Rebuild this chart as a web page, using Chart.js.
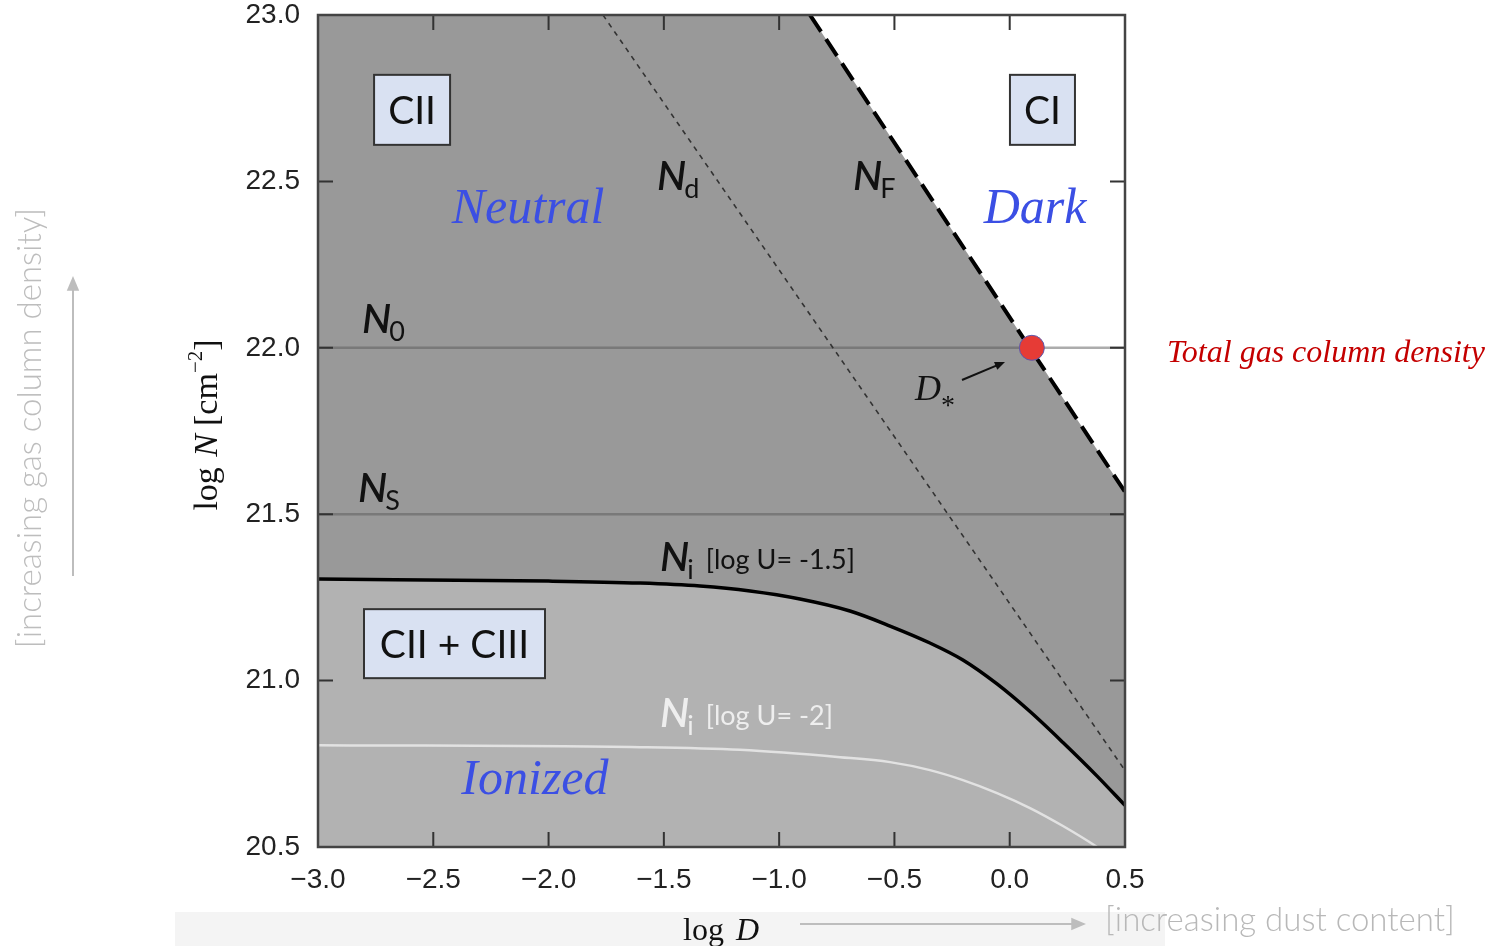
<!DOCTYPE html>
<html>
<head>
<meta charset="utf-8">
<script src="https://cdn.jsdelivr.net/npm/chart.js@4.4.1/dist/chart.umd.min.js"></script>
<style>
  html, body { margin: 0; padding: 0; background: #fff; }
  canvas { display: block; }
</style>
</head>
<body>
<canvas id="grafica" width="1502" height="946"></canvas>
<script>
// Marcas de los ejes
const ticksLogD = [-3.0, -2.5, -2.0, -1.5, -1.0, -0.5, 0.0, 0.5];
const ticksLogN = [20.5, 21.0, 21.5, 22.0, 22.5, 23.0];

// N_i [log U = -1.5] (curva negra)
const niAltoD = [-3.0, -2.0, -1.603, -1.343, -1.126, -0.910, -0.693, -0.519, -0.346, -0.203, -0.055, 0.088, 0.231, 0.379, 0.5];
const niAltoN = [21.305, 21.299, 21.293, 21.284, 21.269, 21.245, 21.209, 21.164, 21.113, 21.062, 20.990, 20.907, 20.814, 20.713, 20.625];

// N_i [log U = -2] (curva blanca)
const niBajoD = [-3.0, -1.603, -1.170, -0.736, -0.519, -0.346, -0.203, -0.055, 0.088, 0.231, 0.379, 0.46];
const niBajoN = [20.806, 20.800, 20.792, 20.770, 20.755, 20.731, 20.701, 20.662, 20.617, 20.563, 20.500, 20.46];

// N_d (punteada) y N_F (discontinua)
const ndD = [-1.764, 0.5];
const ndN = [23.0, 20.73];
const nfD = [-0.866, 0.5];
const nfN = [23.0, 21.567];

// Lineas horizontales N_0 y N_S
const n0 = 22.0;
const nS = 21.5;

// Punto D_* (columna total de gas)
const puntoD = [0.096];
const puntoN = [22.0];

const pares = (xs, ys) => xs.map((x, i) => ({ x: x, y: ys[i] }));
const xMin = ticksLogD[0], xMax = ticksLogD[ticksLogD.length - 1];
const yMin = ticksLogN[0], yMax = ticksLogN[ticksLogN.length - 1];

function formato(v) {
    return (v < -1e-9 ? '\u2212' : '') + Math.abs(v).toFixed(1);
}

// Texto con partes de distinta fuente (subindices, cursivas)
function textoMixto(ctx, x, y, partes, alinear) {
    let total = 0;
    partes.forEach(p => { ctx.font = p.f; total += ctx.measureText(p.t).width + (p.sep || 0); });
    let cx = alinear === 'center' ? x - total / 2 : x;
    ctx.textAlign = 'left';
    ctx.textBaseline = 'alphabetic';
    partes.forEach(p => {
        ctx.font = p.f;
        ctx.fillStyle = p.c || ctx.fillStyle;
        ctx.fillText(p.t, cx, y + (p.dy || 0));
        cx += ctx.measureText(p.t).width + (p.sep || 0);
    });
}

function caja(ctx, cx, cy, w, h, texto) {
    ctx.fillStyle = '#d9e1f2';
    ctx.fillRect(cx - w / 2, cy - h / 2, w, h);
    ctx.strokeStyle = '#333';
    ctx.lineWidth = 2;
    ctx.strokeRect(cx - w / 2, cy - h / 2, w, h);
    ctx.fillStyle = '#111';
    ctx.font = '39px Lato';
    ctx.textAlign = 'center';
    ctx.textBaseline = 'middle';
    ctx.fillText(texto, cx, cy + 2);
}

function flecha(ctx, x1, y1, x2, y2, color, ancho, cabeza) {
    const ang = Math.atan2(y2 - y1, x2 - x1);
    ctx.strokeStyle = color;
    ctx.fillStyle = color;
    ctx.lineWidth = ancho;
    ctx.beginPath();
    ctx.moveTo(x1, y1);
    ctx.lineTo(x2 - Math.cos(ang) * cabeza * 0.8, y2 - Math.sin(ang) * cabeza * 0.8);
    ctx.stroke();
    ctx.beginPath();
    ctx.moveTo(x2, y2);
    ctx.lineTo(x2 - cabeza * Math.cos(ang - 0.4), y2 - cabeza * Math.sin(ang - 0.4));
    ctx.lineTo(x2 - cabeza * Math.cos(ang + 0.4), y2 - cabeza * Math.sin(ang + 0.4));
    ctx.closePath();
    ctx.fill();
}

// Fondo de la franja inferior
const fondo = {
    id: 'fondo',
    beforeDraw(chart) {
        const ctx = chart.ctx;
        ctx.save();
        ctx.fillStyle = '#f4f4f4';
        ctx.fillRect(175, 912, 990, 34);
        ctx.restore();
    }
};

// Marco, marcas hacia dentro y anotaciones
const anotaciones = {
    id: 'anotaciones',
    afterDatasetsDraw(chart) {
        const ctx = chart.ctx;
        const a = chart.chartArea;
        const sx = chart.scales.x, sy = chart.scales.y;
        const px = v => sx.getPixelForValue(v);
        const py = v => sy.getPixelForValue(v);
        ctx.save();

        // marcas
        ctx.strokeStyle = '#333';
        ctx.lineWidth = 2;
        const largo = 15;
        ctx.beginPath();
        ticksLogD.forEach(v => {
            const x = px(v);
            ctx.moveTo(x, a.bottom); ctx.lineTo(x, a.bottom - largo);
            ctx.moveTo(x, a.top); ctx.lineTo(x, a.top + largo);
        });
        ticksLogN.forEach(v => {
            const y = py(v);
            ctx.moveTo(a.left, y); ctx.lineTo(a.left + largo, y);
            ctx.moveTo(a.right, y); ctx.lineTo(a.right - largo, y);
        });
        ctx.stroke();

        // marco
        ctx.strokeStyle = '#444';
        ctx.lineWidth = 2.5;
        ctx.strokeRect(a.left, a.top, a.right - a.left, a.bottom - a.top);

        // cajas
        caja(ctx, px(-2.592), py(22.715), 76, 70, 'CII');
        caja(ctx, px(0.142), py(22.715), 65, 70, 'CI');
        caja(ctx, px(-2.408), py(21.111), 181, 69, 'CII + CIII');

        // nombres de regiones
        ctx.fillStyle = '#3b4fe4';
        ctx.font = 'italic 50px "Liberation Serif"';
        ctx.textAlign = 'center';
        ctx.textBaseline = 'middle';
        ctx.fillText('Neutral', px(-2.089), py(22.414));
        ctx.fillText('Dark', px(0.110), py(22.414));
        ctx.fillText('Ionized', px(-2.059), py(20.70));

        // etiquetas de las lineas
        const fN = 'italic 600 41px Lato';
        const fSub = '27px Lato';
        ctx.fillStyle = '#111';
        textoMixto(ctx, px(-1.530), py(22.474), [{ t: 'N', f: fN, sep: -2 }, { t: 'd', f: fSub, dy: 8 }]);
        textoMixto(ctx, px(-0.680), py(22.474), [{ t: 'N', f: fN, sep: -2 }, { t: 'F', f: fSub, dy: 8 }]);
        textoMixto(ctx, px(-2.809), py(22.044), [{ t: 'N', f: fN, sep: -2 }, { t: '0', f: fSub, dy: 8 }]);
        textoMixto(ctx, px(-2.827), py(21.537), [{ t: 'N', f: fN, sep: -2 }, { t: 'S', f: fSub, dy: 8 }]);
        textoMixto(ctx, px(-1.517), py(21.329), [{ t: 'N', f: fN, sep: -2 }, { t: 'i', f: fSub, dy: 8, sep: 12 }, { t: '[log U= -1.5]', f: '27px Lato', dy: -2 }]);
        ctx.fillStyle = '#eeeeee';
        textoMixto(ctx, px(-1.517), py(20.861), [{ t: 'N', f: fN, sep: -2 }, { t: 'i', f: fSub, dy: 8, sep: 12 }, { t: '[log U= -2]', f: '27px Lato', dy: -2 }]);

        // D_* con flecha
        ctx.fillStyle = '#111';
        textoMixto(ctx, px(-0.411), py(21.843), [{ t: 'D', f: 'italic 36px "Liberation Serif"', sep: 0 }, { t: '*', f: '28px "Liberation Serif"', dy: 14 }]);
        flecha(ctx, 962, 380, 1005, 362, '#111', 2, 11);

        ctx.restore();
    },
    afterDraw(chart) {
        const ctx = chart.ctx;
        ctx.save();

        // titulo eje y
        ctx.translate(207, 425);
        ctx.rotate(-Math.PI / 2);
        ctx.fillStyle = '#111';
        textoMixto(ctx, 0, 10, [
            { t: 'log ', f: '34px "Liberation Serif"', sep: 2 },
            { t: 'N', f: 'italic 34px "Liberation Serif"', sep: 8 },
            { t: '[cm', f: '34px "Liberation Serif"' },
            { t: '\u22122', f: '21px "Liberation Serif"', dy: -15 },
            { t: ']', f: '34px "Liberation Serif"' }
        ], 'center');
        ctx.restore();

        ctx.save();
        // titulo eje x
        ctx.fillStyle = '#111';
        textoMixto(ctx, 721, 940, [
            { t: 'log ', f: '32px "Liberation Serif"', sep: 4 },
            { t: 'D', f: 'italic 32px "Liberation Serif"' }
        ], 'center');

        // leyendas grises exteriores
        ctx.fillStyle = '#b8b8b8';
        ctx.font = '300 33px Lato';
        ctx.textAlign = 'left';
        ctx.textBaseline = 'middle';
        ctx.fillText('[increasing dust content]', 1105, 920);
        flecha(ctx, 800, 924, 1086, 924, '#bdbdbd', 2, 16);

        ctx.save();
        ctx.translate(30, 428);
        ctx.rotate(-Math.PI / 2);
        ctx.textAlign = 'center';
        ctx.fillText('[increasing gas column density]', 0, 0);
        ctx.restore();
        flecha(ctx, 73, 576, 73, 276, '#bdbdbd', 2, 16);

        // texto rojo
        ctx.fillStyle = '#c40000';
        ctx.font = 'italic 32px "Liberation Serif"';
        ctx.textAlign = 'left';
        ctx.textBaseline = 'alphabetic';
        ctx.fillText('Total gas column density', 1167, 362);

        ctx.restore();
    }
};

const lineaBase = { pointRadius: 0, pointHoverRadius: 0, fill: false };

new Chart(document.getElementById('grafica').getContext('2d'), {
    type: 'line',
    data: {
        datasets: [
            // punto rojo
            {
                type: 'scatter',
                data: pares(puntoD, puntoN),
                pointRadius: 12.5,
                pointBackgroundColor: '#e63b36',
                pointBorderColor: '#5a5ab0',
                pointBorderWidth: 1,
                order: 1
            },
            // N_F discontinua
            Object.assign({}, lineaBase, {
                data: pares(nfD, nfN),
                borderColor: '#000',
                borderWidth: 4,
                borderDash: [20, 9],
                order: 2
            }),
            // N_d punteada
            Object.assign({}, lineaBase, {
                data: pares(ndD, ndN),
                borderColor: '#333',
                borderWidth: 1.6,
                borderDash: [5, 5],
                order: 3
            }),
            // N_i [log U = -2]
            Object.assign({}, lineaBase, {
                data: pares(niBajoD, niBajoN),
                borderColor: '#e2e2e2',
                borderWidth: 2.5,
                cubicInterpolationMode: 'monotone',
                order: 4
            }),
            // N_0
            Object.assign({}, lineaBase, {
                data: pares([xMin, xMax], [n0, n0]),
                borderColor: 'rgba(90,90,90,0.5)',
                borderWidth: 2.5,
                order: 5
            }),
            // N_S
            Object.assign({}, lineaBase, {
                data: pares([xMin, xMax], [nS, nS]),
                borderColor: 'rgba(90,90,90,0.5)',
                borderWidth: 2.5,
                order: 5
            }),
            // N_i [log U = -1.5] con zona ionizada debajo
            Object.assign({}, lineaBase, {
                data: pares(niAltoD, niAltoN),
                borderColor: '#000',
                borderWidth: 3.5,
                fill: 'start',
                backgroundColor: '#b2b2b2',
                cubicInterpolationMode: 'monotone',
                order: 8
            }),
            // zona neutra (debajo de N_F)
            Object.assign({}, lineaBase, {
                data: pares([xMin].concat(nfD), [yMax].concat(nfN)),
                borderWidth: 0,
                borderColor: 'rgba(0,0,0,0)',
                fill: 'start',
                backgroundColor: '#999999',
                order: 10
            })
        ]
    },
    options: {
        responsive: false,
        animation: false,
        layout: { padding: { top: 15, right: 377, bottom: 0, left: 0 } },
        plugins: {
            legend: { display: false },
            tooltip: { enabled: false }
        },
        scales: {
            x: {
                type: 'linear',
                min: xMin,
                max: xMax,
                afterBuildTicks: s => { s.ticks = ticksLogD.map(v => ({ value: v })); },
                afterFit: s => { s.height = 99; s.paddingLeft = 0; s.paddingRight = 0; },
                grid: { display: false, drawTicks: false },
                border: { display: false },
                ticks: {
                    callback: formato,
                    autoSkip: false,
                    maxRotation: 0,
                    padding: 16,
                    color: '#222',
                    font: { family: 'Liberation Sans', size: 28 }
                }
            },
            y: {
                type: 'linear',
                min: yMin,
                max: yMax,
                afterBuildTicks: s => { s.ticks = ticksLogN.map(v => ({ value: v })); },
                afterFit: s => { s.width = 318; s.paddingTop = 0; s.paddingBottom = 0; },
                grid: { display: false, drawTicks: false },
                border: { display: false },
                ticks: {
                    callback: formato,
                    autoSkip: false,
                    padding: 18,
                    color: '#222',
                    font: { family: 'Liberation Sans', size: 28 }
                }
            }
        }
    },
    plugins: [fondo, anotaciones]
});
</script>
</body>
</html>
